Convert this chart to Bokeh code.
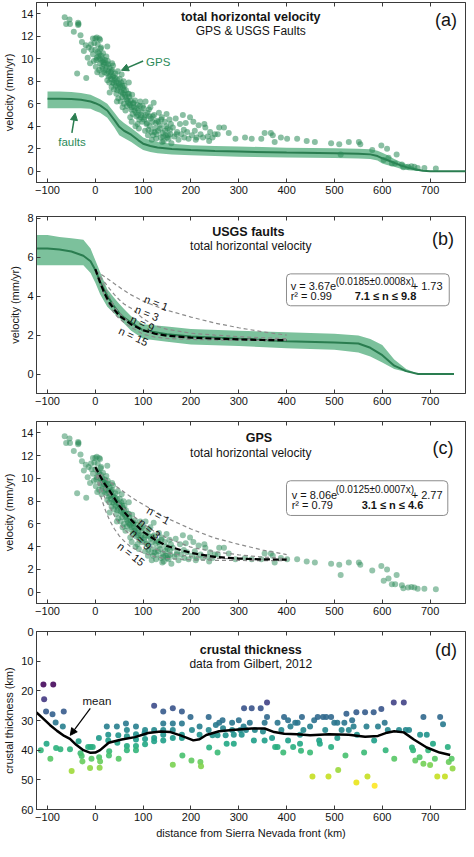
import math
from bokeh.plotting import figure
from bokeh.models import Range1d, FixedTicker, LinearAxis, Arrow, NormalHead, Quad
from bokeh.layouts import column
from bokeh.palettes import Viridis256
from bokeh.transform import linear_cmap
from bokeh.core.properties import value
from bokeh.embed import file_html
from bokeh.resources import INLINE

FONT = "Liberation Sans"

# ---------------- data ----------------
x_ticks = [-100, 0, 100, 200, 300, 400, 500, 600, 700]
vel_ticks = [0, 2, 4, 6, 8, 10, 12, 14]
vel_ticks_b = [0, 2, 4, 6, 8]
thick_ticks = [0, 10, 20, 30, 40, 50, 60]

# GPS total horizontal velocity (km, mm/yr)
gps_x = [
    -64, -61, -54, -53, -36, -35, -36, -45, -31, -28, -38, -19, -24, -20, -16, -11, -14, -8,
    -5, 0, 3, 8, 10, -9, -2, 5, 12, 8, -5, 3, 15, 25, 0, 2, 6, 10, 1, -3, 4, 8,
    12, 14, 16, 18, 20, 15, 19, 22, 13, 24, 26, 27, 28, 30, 25, 29, 23,
    32, 33, 35, 36, 38, 40, 34, 39, 37, 42, 43, 45, 46, 47, 49, 44, 48,
    51, 52, 54, 55, 56, 58, 59, 53, 57, 61, 62, 64, 65, 66, 68, 69, 63, 71, 72, 74, 75, 77, 78, 79, 73, 76,
    81, 83, 85, 86, 88, 90, 92, 94, 96, 98, 99, 84, 91,
    101, 103, 105, 107, 109, 111, 113, 115, 117, 119, 121, 123, 125, 127, 129, 110, 118, 122,
    131, 133, 135, 137, 139, 141, 143, 145, 147, 149, 151, 153, 155, 157, 159, 140, 150, 158,
    162, 165, 168, 171, 174, 177, 180, 183, 186, 189, 192, 195, 198, 170, 185,
    202, 205, 208, 212, 216, 220, 225, 230, 235, 240, 245, 250, 210, 228, 238,
    256, 259, 269, 279, 293, 313, 327, 347, 354, 367, 371, 375, 388, 401, 422, 442, 459, 493, 510, 513,
    530, 551, 554, 579, 598, 610, 603, 613, 620, 627, 630, 641, 644, 654, 661, 667, 674, 688, 712,
    5, 9, 11, 14, 17, 21, 24, 27, 31, 34, 36, 39, 41, 44, 47, 50, 53, 56, 58, 60,
    63, 67, 70, 72, 76, 80, 82, 87, 89, 93, 95, 97, 102, 106, 108, 112, 114, 116, 120, 124,
    126, 128, 132, 136, 138, 142, 146, 148, 152, 156, 30, 45, 60, 88, 104, 35, 55, 70,
]
gps_y = [
    13.7, 13.1, 13.5, 13.1, 13.2, 13.1, 13.0, 12.4, 12.1, 11.5, 8.7, 8.3, 10.7, 11.2, 10.1, 9.6, 11.0, 10.8,
    11.8, 11.8, 11.9, 11.8, 11.7, 11.3, 11.4, 11.3, 11.0, 10.5, 10.4, 10.1, 10.0, 11.1, 10.8, 9.9, 10.2, 9.6, 9.3, 9.8, 8.8, 9.0,
    10.3, 9.8, 10.5, 9.5, 9.9, 9.1, 8.8, 9.6, 8.6, 9.3, 9.8, 8.9, 8.4, 9.2, 8.1, 7.9, 10.2,
    8.8, 8.2, 9.0, 7.9, 8.5, 8.1, 7.5, 7.3, 9.4, 8.7, 7.6, 8.2, 7.2, 8.9, 7.8, 6.9, 6.5,
    8.2, 7.5, 7.9, 7.0, 6.6, 7.4, 8.0, 6.2, 5.7, 7.6, 6.8, 7.2, 6.4, 5.8, 6.9, 6.1, 5.4, 6.6, 5.9, 6.3, 5.5, 6.8, 5.1, 6.0, 4.8, 4.4,
    5.7, 6.3, 5.2, 4.9, 5.9, 5.4, 4.6, 6.2, 5.0, 4.4, 5.8, 4.0, 3.8,
    5.6, 4.8, 6.2, 4.2, 5.2, 3.7, 4.9, 5.7, 3.5, 4.4, 3.2, 5.0, 3.8, 2.9, 4.5, 3.2, 2.8, 6.1,
    3.6, 5.2, 4.1, 3.0, 4.8, 3.4, 2.7, 4.4, 3.2, 5.1, 3.8, 2.9, 4.6, 3.3, 2.5, 2.6, 3.0, 4.2,
    3.9, 3.1, 4.7, 3.5, 2.8, 4.2, 3.3, 5.0, 3.0, 4.3, 3.5, 2.9, 4.8, 3.3, 3.7,
    3.2, 4.4, 3.6, 3.0, 4.1, 3.3, 3.0, 3.9, 3.1, 3.5, 3.0, 3.3, 2.8, 4.2, 2.7,
    3.3, 3.9, 3.9, 3.4, 2.9, 3.0, 2.9, 2.9, 3.4, 3.4, 3.2, 2.6, 3.0, 2.9, 2.9, 2.7, 2.6, 2.5, 2.4, 1.5,
    2.6, 2.6, 2.4, 1.9, 2.3, 2.0, 1.0, 1.2, 0.7, 0.7, 1.5, 0.6, 0.35, 0.4, 0.45, 0.4, 0.3, 0.3, 0.25,
    10.6, 10.0, 10.9, 9.3, 9.7, 9.0, 8.7, 9.5, 8.5, 8.9, 8.4, 7.8, 8.3, 7.9, 7.4, 7.7, 7.1, 7.6, 6.9, 7.2,
    6.6, 6.3, 6.9, 6.0, 5.7, 6.1, 5.4, 5.6, 5.0, 5.8, 4.8, 5.3, 4.6, 5.0, 4.3, 5.5, 4.0, 4.7, 4.9, 3.5,
    4.3, 3.3, 4.4, 3.8, 4.6, 3.1, 3.6, 4.0, 3.2, 3.7, 7.0, 6.2, 6.0, 4.2, 3.6, 9.6, 8.6, 7.9,
]

# USGS faults, panel (a)
fa_x = [-100, -75, -50, -30, -10, 0, 10, 25, 40, 50, 60, 75, 90, 100, 115, 130, 160, 200, 250, 300,
        400, 500, 550, 575, 590, 600, 610, 625, 640, 655, 670, 685, 700, 775]
fa_mean = [6.45, 6.45, 6.42, 6.35, 6.2, 6.05, 5.85, 5.4, 4.55, 3.95, 3.6, 3.25, 2.75, 2.45, 2.25, 2.12, 1.98, 1.88, 1.8, 1.75,
           1.66, 1.6, 1.56, 1.5, 1.35, 1.15, 1.0, 0.75, 0.5, 0.3, 0.15, 0.05, 0.0, 0.0]
fa_upper = [7.1, 7.1, 7.05, 6.95, 6.8, 6.6, 6.4, 6.0, 5.2, 4.65, 4.3, 3.85, 3.35, 3.0, 2.75, 2.6, 2.45, 2.32, 2.25, 2.2,
            2.1, 2.05, 2.0, 1.95, 1.82, 1.65, 1.45, 1.1, 0.8, 0.55, 0.3, 0.1, 0.0, 0.0]
fa_lower = [5.6, 5.6, 5.6, 5.6, 5.55, 5.35, 5.2, 4.75, 3.9, 3.2, 2.95, 2.6, 2.15, 1.9, 1.72, 1.6, 1.5, 1.42, 1.36, 1.3,
            1.22, 1.17, 1.13, 1.1, 0.95, 0.7, 0.55, 0.4, 0.2, 0.1, 0.04, 0.0, 0.0, 0.0]

# USGS faults, panel (b)
fb_x = [-123, -100, -75, -50, -25, -10, 0, 10, 25, 40, 50, 60, 75, 100, 150, 200, 300, 400, 500, 550,
        575, 600, 625, 650, 675, 750]
fb_mean = [6.45, 6.45, 6.4, 6.3, 6.08, 5.8, 5.35, 4.75, 4.03, 3.45, 3.13, 2.9, 2.64, 2.25, 2.05, 1.93, 1.82, 1.69, 1.62, 1.57,
           1.35, 0.97, 0.43, 0.15, 0.0, 0.0]
fb_upper = [7.15, 7.15, 7.05, 6.98, 6.9, 6.45, 5.85, 5.25, 4.36, 3.9, 3.62, 3.35, 2.97, 2.56, 2.44, 2.31, 2.23, 2.15, 2.07, 1.98,
            1.8, 1.49, 0.75, 0.26, 0.0, 0.0]
fb_lower = [5.6, 5.6, 5.6, 5.6, 5.6, 5.2, 4.7, 4.1, 3.46, 3.1, 2.88, 2.6, 2.23, 1.82, 1.66, 1.52, 1.44, 1.33, 1.25, 1.11,
            0.9, 0.59, 0.26, 0.1, 0.0, 0.0]

# fitted curves (0-400 km)
fit_x = [0, 10, 20, 30, 40, 50, 60, 75, 100, 125, 150, 200, 250, 300, 350, 400]
b_fit = [5.4, 4.7, 4.1, 3.65, 3.3, 3.0, 2.82, 2.55, 2.25, 2.07, 1.97, 1.87, 1.82, 1.78, 1.75, 1.74]
b_n1 = [5.3, 5.15, 5.0, 4.82, 4.64, 4.47, 4.3, 4.07, 3.75, 3.5, 3.28, 2.93, 2.62, 2.38, 2.17, 2.0]
b_n3 = [5.3, 5.0, 4.7, 4.38, 4.08, 3.82, 3.6, 3.38, 2.85, 2.48, 2.3, 2.1, 2.0, 1.92, 1.86, 1.82]
b_n9 = [5.3, 4.95, 4.45, 3.95, 3.45, 3.15, 2.9, 2.55, 2.25, 2.07, 1.97, 1.87, 1.82, 1.79, 1.77, 1.76]
b_n15 = [5.3, 4.6, 4.0, 3.5, 3.1, 2.85, 2.65, 2.4, 2.05, 1.9, 1.83, 1.78, 1.75, 1.74, 1.73, 1.73]
c_fit = [11.0, 10.2, 9.5, 8.9, 8.25, 7.6, 7.05, 6.35, 5.3, 4.6, 4.05, 3.45, 3.1, 2.95, 2.88, 2.85]
c_n1 = [10.9, 10.4, 10.0, 9.7, 9.4, 9.1, 8.8, 8.35, 7.7, 7.1, 6.5, 5.55, 4.75, 4.2, 3.7, 3.3]
c_n3 = [10.9, 9.9, 9.05, 8.6, 8.15, 7.75, 7.35, 6.85, 6.0, 5.3, 4.75, 3.95, 3.55, 3.28, 3.08, 2.96]
c_n9 = [10.9, 9.3, 8.3, 7.5, 6.7, 6.0, 5.55, 4.95, 4.3, 3.8, 3.45, 3.12, 2.98, 2.92, 2.89, 2.87]
c_n15 = [10.9, 8.6, 7.3, 6.3, 5.55, 4.95, 4.5, 3.95, 3.45, 3.1, 2.95, 2.84, 2.8, 2.78, 2.77, 2.77]

# crustal thickness (Gilbert, 2012)
thick_x = [
    -108.5, -88, -107, -103, -89.5, -66, -114, -102, -94, -83,
    -82, -73, -68, -53, -49.5, -35, -31, -28.5, -27, -15,
    -10, -11, -5.4, -8, 7.5, 8, 10, 9, 24, 27,
    27, 29, 28.5, 45, 48, 46, 48.8, 64, 66, 66,
    66, 66, 85, 85, 85, 85, 85, 103, 104, 104,
    104, 123, 123, 123, 123, 142, 142, 142, 142, 142,
    162, 162, 162, 162, 162, 181, 181, 181, 181, 182,
    199, 202, 201, 218, 218, 219.7, 221, 237, 237, 238,
    245, 252, 255.6, 259, 255.6, 266, 267, 272.5, 274.6, 286,
    286, 289.5, 289.5, 300, 303, 306, 310, 311, 315, 323,
    327, 331.5, 333.6, 345.8, 350.5, 354, 359, 359, 354, 369.5,
    376, 381, 381, 389, 393, 394.6, 403, 403, 408, 413.6,
    418, 423, 428, 432, 428, 430, 435, 449, 449, 454,
    457.6, 465, 468, 469.5, 476, 480.7, 482.7, 487.5, 493, 493,
    499.6, 506, 506, 507.8, 515, 520.7, 525, 523, 530, 537,
    540, 545.8, 547, 545.8, 564, 562, 567, 569, 582, 583,
    584, 591, 598, 605, 607, 611.5, 624, 625, 635, 645,
    649, 656, 662, 664.4, 669, 678, 679, 686, 686, 693,
    696, 700, 706, 710, 715, 721, 727, 731, 737, 739,
    745, 747,
]
thick_y = [
    17.9, 17.9, 22.8, 27, 27.9, 27, 40, 37.8, 42.9, 30.7,
    39.3, 39.7, 32, 39.7, 47, 37, 41, 42, 43.8, 38.9,
    38.9, 46, 38.9, 42.9, 35.9, 42.4, 43.8, 45.9, 32, 34.8,
    36.7, 40.4, 41.8, 32, 35, 37.5, 42.9, 31, 33.2, 35.3,
    38.6, 40, 32, 34.6, 36.4, 38.6, 40, 34.2, 33.2, 36.2,
    38, 33.2, 25, 35.9, 37, 27, 31, 33.2, 34.8, 36.7,
    25.9, 31, 33.2, 35.9, 44.9, 27, 31, 34.8, 35.9, 41.8,
    28.8, 33.2, 43.5, 32, 34.8, 44, 45.4, 28.8, 33.2, 39.1,
    35, 31.5, 35, 30.8, 40.8, 29.9, 32.6, 35, 37.8, 30.8,
    33.2, 34.8, 37.8, 29.9, 33.2, 34.8, 32, 25.9, 33.2, 30.8,
    25.9, 36.7, 33.2, 25.9, 33.7, 30.8, 28.8, 23.9, 36.7, 35.9,
    38.9, 38.9, 30.8, 33.2, 40.8, 28.8, 29.9, 36.7, 32, 38.9,
    30.8, 30.8, 34.8, 28.8, 37.8, 40.2, 33.2, 32, 40.8, 48.9,
    29.9, 28.8, 36.7, 37.8, 28.8, 33.2, 28.8, 48.9, 28.8, 38.9,
    30.8, 30.8, 35.9, 46.7, 33.2, 30.8, 27.7, 41.8, 33.2, 29.9,
    32, 27.2, 34.8, 50.9, 27.2, 40.8, 32, 48.9, 27.2, 36.7,
    52, 32, 26.1, 30.8, 40, 33.2, 23.9, 42.9, 33.2, 23.9,
    33.2, 33.2, 39.1, 40, 43.5, 42.4, 34.8, 44.6, 28.8, 34.8,
    40, 45, 37.8, 42.9, 48.9, 28.8, 31.3, 48.9, 38.9, 44,
    42.9, 46.2,
]
mean_x = [-123, -110, -95, -80, -65, -53, -40, -25, -10, 0, 10, 28, 55, 83, 110, 137, 157, 178, 205, 218,
          232, 259, 286, 327, 354, 374, 395, 422, 449, 489, 530, 564, 591, 610, 625, 645, 666, 693, 720, 742]
mean_y = [27.3, 29.2, 31.5, 33.5, 35.2, 36.2, 38.2, 40.0, 40.9, 40.8, 40.0, 37.5, 36.4, 35.6, 34.2, 33.7, 33.9, 35.0, 36.7, 36.3,
          34.9, 33.6, 33.2, 32.7, 32.7, 33.9, 34.5, 34.6, 35.0, 34.6, 34.8, 35.5, 35.2, 34.1, 33.6, 34.0, 36.4, 39.1, 40.8, 41.6]

# ---------------- styling ----------------
FRAME = "#3a3a3a"
TXT = "#141414"
GREEN_PT = "#2a8a58"
GREEN_LINE = "#2a7d50"
GREEN_BAND = "#7cc19c"
GRAY_DASH = "#8a8a8a"


def make_fig(height, yr, yticks, ylabel, btop, bbot, xlabel=""):
    p = figure(width=466, height=height, x_range=Range1d(-123, 774), y_range=yr,
               output_backend="svg", toolbar_location=None,
               min_border_left=30, min_border_right=1, min_border_top=btop, min_border_bottom=bbot,
               background_fill_color="white", border_fill_color="white")
    p.grid.visible = False
    p.outline_line_color = FRAME
    p.outline_line_width = 1
    p.xaxis.ticker = FixedTicker(ticks=x_ticks)
    p.xaxis.major_label_overrides = {-100: "\u2212100"}
    p.yaxis.ticker = FixedTicker(ticks=yticks)
    p.yaxis.axis_label = ylabel
    if xlabel:
        p.xaxis.axis_label = xlabel
    for ax in p.axis:
        ax.major_tick_in = 4
        ax.major_tick_out = 0
        ax.minor_tick_line_color = None
        ax.axis_line_color = FRAME
        ax.major_tick_line_color = FRAME
        ax.major_label_text_font = FONT
        ax.major_label_text_font_size = "11px"
        ax.major_label_text_color = TXT
        ax.major_label_standoff = 3
        ax.axis_label_text_font = FONT
        ax.axis_label_text_font_size = "11px"
        ax.axis_label_text_font_style = "normal"
        ax.axis_label_text_color = TXT
        ax.axis_label_standoff = 3
    top_ax = LinearAxis(ticker=FixedTicker(ticks=x_ticks),
                        major_label_overrides={t: "" for t in x_ticks},
                        major_label_text_font_size="0px", major_label_standoff=0,
                        axis_label_standoff=0,
                        major_tick_in=4, major_tick_out=0, minor_tick_line_color=None,
                        axis_line_color=FRAME, major_tick_line_color=FRAME)
    p.add_layout(top_ax, "above")
    return p


def txt(p, x, y, s, size, style="normal", align="center", color=TXT, angle=0.0, xo=0):
    p.text(x=[x], y=[y], text=[s], text_font=value(FONT), text_font_size=size,
           text_font_style=style, text_align=align, text_baseline="middle",
           text_color=color, angle=angle, x_offset=xo)


quad_kw = {}
if "border_radius" in Quad.properties():
    quad_kw["border_radius"] = 4


def fit_box(p, left, right, bottom, top, x0, y1, ysup, y2, parts):
    p.quad(left=[left], right=[right], bottom=[bottom], top=[top], fill_color="white",
           line_color="#8c8c8c", line_width=1, **quad_kw)
    main, sup, tail, r2, bold, off_sup, off_tail, off_bold = parts
    txt(p, x0, y1, main, "11px", align="left")
    txt(p, x0, ysup, sup, "10px", align="left", xo=off_sup)
    txt(p, x0, y1, tail, "11px", align="left", xo=off_tail)
    txt(p, x0, y2, r2, "11px", align="left")
    txt(p, x0, y2, bold, "11px", style="bold", align="left", xo=off_bold)


# ---------------- panel (a) ----------------
pa = make_fig(202, Range1d(-1, 15), vel_ticks, "velocity (mm/yr)", 2, 20)
pa.varea(x=fa_x, y1=fa_lower, y2=fa_upper, fill_color=GREEN_BAND, fill_alpha=1.0)
pa.line(fa_x, fa_mean, line_color=GREEN_LINE, line_width=2)
pa.scatter(gps_x, gps_y, size=6, fill_color=GREEN_PT, fill_alpha=0.55, line_color=None)
txt(pa, 325, 13.7, "total horizontal velocity", "12.5px", style="bold")
txt(pa, 325, 12.5, "GPS & USGS Faults", "12px")
txt(pa, 733, 13.45, "(a)", "18px")
txt(pa, 106, 9.75, "GPS", "11.5px", align="left", color=GREEN_PT)
txt(pa, -77.6, 2.64, "faults", "11.5px", align="left", color=GREEN_PT)
pa.add_layout(Arrow(end=NormalHead(size=7, fill_color=GREEN_LINE, line_color=GREEN_LINE),
                    x_start=100, y_start=9.8, x_end=54.6, y_end=8.97,
                    line_color=GREEN_LINE, line_width=1.5))
pa.add_layout(Arrow(end=NormalHead(size=7, fill_color=GREEN_LINE, line_color=GREEN_LINE),
                    x_start=-49, y_start=3.42, x_end=-42.2, y_end=5.16,
                    line_color=GREEN_LINE, line_width=1.5))

# ---------------- panel (b) ----------------
pb = make_fig(211, Range1d(-1, 8.1), vel_ticks_b, "velocity (mm/yr)", 14, 20)
pb.varea(x=fb_x, y1=fb_lower, y2=fb_upper, fill_color=GREEN_BAND, fill_alpha=1.0)
pb.line(fb_x, fb_mean, line_color=GREEN_LINE, line_width=2)
for ys in (b_n1, b_n3, b_n9, b_n15):
    pb.line(fit_x, ys, line_color=GRAY_DASH, line_width=1.2, line_dash="4 3")
pb.line(fit_x, b_fit, line_color="black", line_width=2.2, line_dash="6 3")
txt(pb, 127.2, 3.66, "n = 1", "11px", angle=math.radians(-22))
txt(pb, 108, 3.13, "n = 3", "11px", angle=math.radians(-22))
txt(pb, 98.7, 2.61, "n = 9", "11px", angle=math.radians(-25))
txt(pb, 79.8, 1.94, "n = 15", "11px", angle=math.radians(-25))
txt(pb, 320, 7.31, "USGS faults", "12.5px", style="bold")
txt(pb, 325, 6.58, "total horizontal velocity", "12px")
txt(pb, 727, 6.92, "(b)", "18px")
fit_box(pb, 399.7, 740, 3.51, 5.15, 408.4, 4.53, 4.76, 4.0,
        ("v = 3.67e", "(0.0185\u00b10.0008x)", "+ 1.73", "r\u00b2 = 0.99",
         "7.1 \u2264 n \u2264 9.8", 45, 121, 64))

# ---------------- panel (c) ----------------
pc = make_fig(210, Range1d(-1, 15), vel_ticks, "velocity (mm/yr)", 8, 20)
pc.scatter(gps_x, gps_y, size=6, fill_color=GREEN_PT, fill_alpha=0.5, line_color=None)
for ys in (c_n1, c_n3, c_n9, c_n15):
    pc.line(fit_x, ys, line_color=GRAY_DASH, line_width=1.2, line_dash="4 3")
pc.line(fit_x, c_fit, line_color="black", line_width=2.2, line_dash="6 3")
txt(pc, 131.9, 6.74, "n = 1", "11px", angle=math.radians(-30))
txt(pc, 113.5, 5.58, "n = 3", "11px", angle=math.radians(-40))
txt(pc, 95.2, 4.62, "n = 9", "11px", angle=math.radians(-45))
txt(pc, 75, 3.34, "n = 15", "11px", angle=math.radians(-38))
txt(pc, 342, 13.54, "GPS", "12.5px", style="bold")
txt(pc, 325, 12.23, "total horizontal velocity", "12px")
txt(pc, 727, 12.67, "(c)", "18px")
fit_box(pc, 399.7, 737, 6.74, 9.79, 410.5, 8.57, 8.98, 7.67,
        ("v = 8.06e", "(0.0125\u00b10.0007x)", "+ 2.77", "r\u00b2  = 0.79",
         "3.1 \u2264 n \u2264 4.6", 44, 120, 70))

# ---------------- panel (d) ----------------
pd = make_fig(218, Range1d(60, 0), thick_ticks, "crustal thickness (km)", 8, 32,
              xlabel="distance from Sierra Nevada front (km)")
pd.scatter(thick_x, thick_y, size=6, line_color=None, fill_alpha=0.9,
           fill_color=linear_cmap("y", Viridis256, 17, 52))
pd.line(mean_x, mean_y, line_color="black", line_width=2.5)
txt(pd, 325, 6.4, "crustal thickness", "12.5px", style="bold")
txt(pd, 325, 11.0, "data from Gilbert, 2012", "12px")
txt(pd, 733, 6.4, "(d)", "18px")
txt(pd, -26.8, 23.4, "mean", "11.5px", align="left")
pd.add_layout(Arrow(end=NormalHead(size=7, fill_color="black", line_color="black"),
                    x_start=-10.5, y_start=25.9, x_end=-52.4, y_end=35.0,
                    line_color="black", line_width=1.2))

layout = column(pa, pb, pc, pd, spacing=0)
open("out.html", "w").write(file_html(layout, INLINE))
